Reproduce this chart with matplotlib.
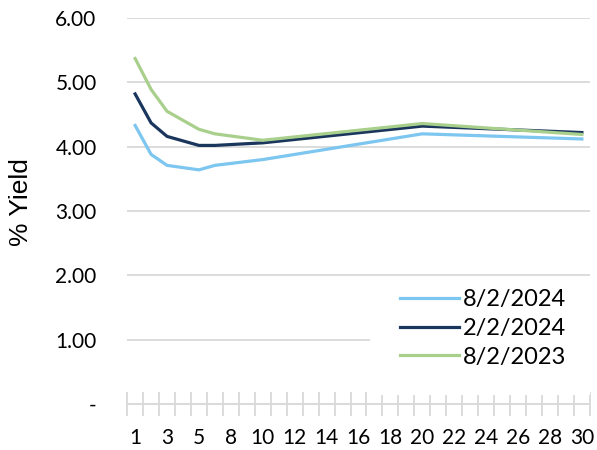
import matplotlib.pyplot as plt
from matplotlib.patches import Rectangle
import numpy as np

plt.rcParams['font.family'] = ['Lato', 'DejaVu Sans']

# category axis (years to maturity)
categories = [1, 2, 3, 4, 5, 7] + list(range(8, 31))
maturities = [1, 2, 3, 5, 7, 10, 20, 30]

yield_aug24 = [4.33, 3.88, 3.71, 3.64, 3.71, 3.80, 4.20, 4.12]
yield_feb24 = [4.82, 4.37, 4.16, 4.02, 4.02, 4.06, 4.32, 4.22]
yield_aug23 = [5.37, 4.89, 4.55, 4.27, 4.20, 4.10, 4.36, 4.19]

series = [
    ('8/2/2024', yield_aug24, '#7cc6ef'),
    ('2/2/2024', yield_feb24, '#1b365d'),
    ('8/2/2023', yield_aug23, '#a9cf8c'),
]

x_pos = [categories.index(m) for m in maturities]

fig = plt.figure(figsize=(5.97, 4.5), dpi=100)
ax = fig.add_axes([0.213, 0.102, 0.775, 0.858])

for label, vals, color in series:
    ax.plot(x_pos, vals, '-', color=color, linewidth=2.3, label=label)

ax.set_xlim(-0.5, len(categories) - 0.5)
ax.set_ylim(0, 6)

ax.set_yticks(np.arange(0, 7, 1))
ax.set_yticklabels(['-'] + ['%.2f' % v for v in range(1, 7)], fontsize=15)
ax.yaxis.grid(True, color='#d9d9d9', linewidth=1.3)
ax.set_axisbelow(True)
ax.tick_params(axis='y', length=0, pad=22)

ax.set_xticks(range(0, len(categories), 2))
ax.set_xticklabels([str(c) for c in categories[::2]], fontsize=15)
ax.set_xticks(np.arange(-0.5, len(categories), 1), minor=True)
ax.tick_params(axis='x', which='major', length=0, pad=17)
ax.tick_params(axis='x', which='minor', length=17, width=1.3,
               color='#d9d9d9', direction='inout')

for side in ['left', 'right', 'top']:
    ax.spines[side].set_visible(False)
ax.spines['bottom'].set_color('#d9d9d9')
ax.spines['bottom'].set_linewidth(1.3)

ax.set_ylabel('% Yield', fontsize=19, family='Liberation Sans')
ax.yaxis.set_label_coords(-(127 - 33) / 462.7, (404 - 202) / 386.0)

# white legend area hiding the gridline behind it
ax.add_patch(Rectangle((0.525, 0.023), 0.475, 0.27, transform=ax.transAxes,
                       facecolor='white', edgecolor='none', zorder=1))

leg = ax.legend(loc='upper left', bbox_to_anchor=(400 / 597, 1 - 289 / 450),
                bbox_transform=fig.transFigure, frameon=False,
                fontsize=17, handlelength=2.5, labelspacing=0.33,
                handletextpad=0.15, borderpad=0, borderaxespad=0)

plt.savefig('out.png', dpi=100)
plt.close()
